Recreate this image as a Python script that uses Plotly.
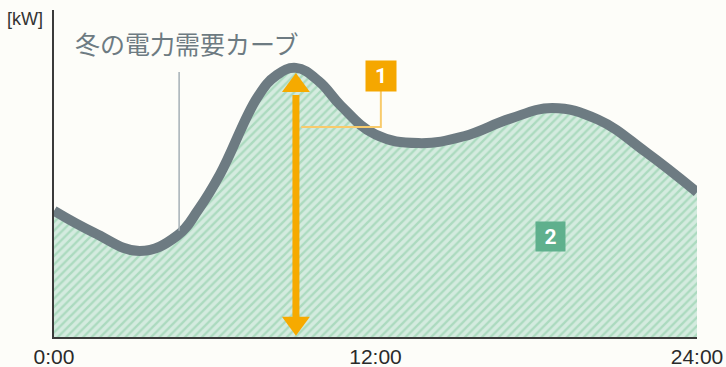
import plotly.graph_objects as go

# Data (hours, relative demand)
hours = [0, 1.5, 3.2, 4.6, 5.4, 6.2, 7.6, 8.3, 9.03, 9.9, 10.7, 12.0, 13.6, 15.3, 17.0, 18.6, 20.3, 22.1, 24]
demand = [38.6, 31.9, 26.3, 31.0, 39.1, 49.8, 73.4, 80.0, 82.3, 78.1, 70.8, 61.9, 59.3, 61.4, 66.7, 70.0, 66.5, 56.5, 44.3]
tick_vals = [0, 12, 24]
tick_text = ["0:00", "12:00", "24:00"]
title_text = "冬の電力需要カーブ"
unit_text = "[kW]"

ORANGE = "#f6aa00"
GRAY = "#6d7b82"
BG = "#fdfdf9"

# pixel geometry helpers (plot area 54..697 x, 10..337 y)
PX_X = 643 / 24
PX_Y = 327 / 100

peak_i = demand.index(max(demand))
peak_x = hours[peak_i]

fig = go.Figure()
fig.add_trace(go.Scatter(
    x=hours, y=demand, mode="lines",
    line=dict(color=GRAY, width=10, shape="spline", smoothing=1.2),
    fill="tozeroy", fillcolor="#d4ebdf",
    fillpattern=dict(shape="/", fgcolor="#84ca9f", bgcolor="#d4ebdf", size=6, solidity=0.4),
    hoverinfo="skip", showlegend=False,
))

shapes = []
# title leader line
shapes.append(dict(type="line", x0=4.67, x1=4.67, y0=(337 - 72) / PX_Y, y1=32.5, line=dict(color="#a5b0b6", width=1.5)))
# connector for label 1
cy = (337 - 127) / PX_Y
shapes.append(dict(type="path", path=f"M {peak_x + 0.2} {cy} L 12.2 {cy} L 12.2 {(337 - 91) / PX_Y}",
                   line=dict(color="#f8cb6c", width=2)))
# arrow shaft
shapes.append(dict(type="line", x0=peak_x, x1=peak_x, y0=74, y1=6, line=dict(color=ORANGE, width=7)))
# arrow heads
hw = 14 / PX_X
hh = 19 / PX_Y
top = (337 - 73) / PX_Y
bot = 0.4
shapes.append(dict(type="path", path=f"M {peak_x} {top} L {peak_x - hw} {top - hh} L {peak_x + hw} {top - hh} Z",
                   fillcolor=ORANGE, line=dict(width=0)))
shapes.append(dict(type="path", path=f"M {peak_x} {bot} L {peak_x - hw} {bot + hh} L {peak_x + hw} {bot + hh} Z",
                   fillcolor=ORANGE, line=dict(width=0)))

annotations = [
    dict(x=12.2, y=(337 - 76) / PX_Y, xref="x", yref="y", text="<b>1</b>", showarrow=False,
         font=dict(color="white", size=21, family="Roboto"), bgcolor="#f5a700",
         width=28, height=28, borderpad=1),
    dict(x=18.55, y=(337 - 236) / PX_Y, xref="x", yref="y", text="<b>2</b>", showarrow=False,
         font=dict(color="white", size=21, family="Roboto"), bgcolor="#5fb08d",
         width=27, height=27, borderpad=1),
    dict(x=(73 - 54) / 643, y=(337 - 43) / 327, xref="paper", yref="paper", text=title_text, showarrow=False,
         xanchor="left", yanchor="middle",
         font=dict(color=GRAY, size=25, family="Noto Sans CJK JP")),
    dict(x=(5 - 54) / 643, y=(337 - 19) / 327, xref="paper", yref="paper", text=unit_text, showarrow=False,
         xanchor="left", yanchor="middle",
         font=dict(color="#333333", size=18, family="Liberation Sans")),
]

fig.update_layout(
    width=726, height=367,
    margin=dict(l=54, r=29, t=10, b=30, autoexpand=False),
    paper_bgcolor=BG, plot_bgcolor=BG,
    shapes=shapes, annotations=annotations,
    xaxis=dict(range=[0, 24], tickvals=tick_vals, ticktext=tick_text, showgrid=False, zeroline=False,
               showline=True, linecolor="#3a3a3a", linewidth=1.5, ticks="", automargin=False,
               tickfont=dict(size=21, color="#2a2a2a", family="Liberation Sans")),
    yaxis=dict(range=[0, 100], showticklabels=False, showgrid=False, zeroline=False,
               showline=True, linecolor="#3a3a3a", linewidth=1.5, ticks="", automargin=False),
)
fig.write_html("out.html")
